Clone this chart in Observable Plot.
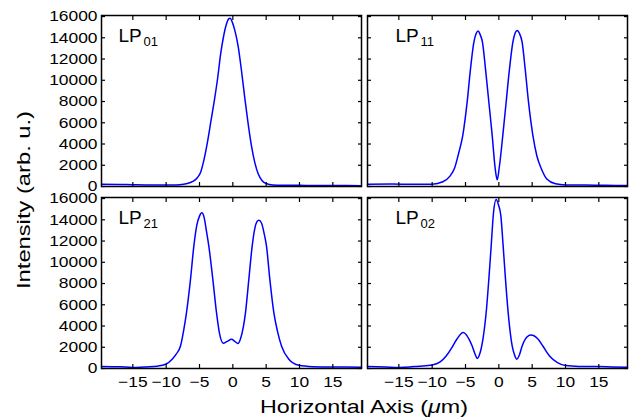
<!DOCTYPE html>
<html><head><meta charset="utf-8">
<script src="https://cdn.jsdelivr.net/npm/d3@7"></script>
<script src="https://cdn.jsdelivr.net/npm/@observablehq/plot@0.6"></script>
<style>body{margin:0;background:#fff}</style>
</head><body><div id="chart"></div>
<script>
const modeNames = ["LP01", "LP11", "LP21", "LP02"];
const modeCol = [0, 1, 0, 1];
const modeRow = [0, 0, 1, 1];

const xLP01 = [-19.7,-17,-15,-13,-11,-9,-8,-7,-6,-5.3,-4.8,-4.3,-3.8,-3.3,-2.8,-2.3,-1.8,-1.4,-1.0,-0.6,-0.4,-0.1,0.3,0.8,1.3,1.8,2.3,2.8,3.3,3.8,4.4,5,6,8,10,12,15,17,19.3];
const yLP01 = [220,200,170,150,150,140,170,260,480,850,1400,2600,4200,6100,8000,10100,12600,14100,15200,15800,15850,15500,14700,13200,10900,8300,5900,3800,2250,1200,550,280,150,120,110,100,90,100,80];

const xLP11 = [-19.7,-16,-13,-10,-8.4,-7.3,-6.65,-6.0,-5.4,-4.75,-4.25,-3.75,-3.4,-3.1,-2.8,-2.45,-2.0,-1.5,-1.0,-0.55,-0.25,0.05,0.6,1.1,1.6,2.1,2.45,2.75,3.1,3.5,3.95,4.45,5.1,5.7,6.35,7.2,8.5,10,13,16,19.3];
const yLP11 = [220,230,210,220,450,1000,1720,3200,4840,7960,11070,13570,14400,14650,14300,13570,11070,7960,4840,1720,625,1720,4840,7960,11070,13570,14450,14680,14400,13570,11070,7960,4840,2900,1720,700,250,140,130,110,100];

const xLP21 = [-19.7,-17,-15,-13,-11.3,-10,-9.1,-8.5,-7.85,-7.4,-6.95,-6.35,-5.85,-5.4,-5.0,-4.65,-4.3,-3.95,-3.6,-3.0,-2.45,-2.0,-1.45,-0.85,-0.2,0.3,0.75,1.2,1.9,2.4,2.9,3.3,3.6,3.9,4.3,4.7,5.05,5.55,6.15,6.7,7.3,8.4,9.9,12,15,17,19.3];
const yLP21 = [200,170,100,150,220,420,870,1350,2120,3500,5260,8390,11520,13500,14350,14660,14200,12900,11520,8390,5260,3300,2380,2550,2750,2550,2350,2900,5260,8390,11520,13200,13800,13960,13700,12700,11520,8390,5260,3500,2120,870,300,170,130,130,110];

const xLP02 = [-19.7,-17,-15,-12,-10,-8.8,-7.9,-6.9,-6.3,-5.35,-4.5,-4.0,-3.5,-3.25,-2.8,-2.35,-1.85,-1.5,-1.15,-0.8,-0.4,-0.05,0.3,0.65,1.0,1.4,2.0,2.4,2.7,3.1,3.5,3.95,4.8,5.9,6.6,7.6,8.8,10,12,15,17,19.3];
const yLP02 = [190,150,100,220,330,620,1180,2120,2750,3380,2800,2120,1250,950,1500,2900,5600,8390,11520,14660,15900,15400,14400,11520,8390,5260,2120,1200,870,1300,2120,2750,3150,2750,2120,1180,560,280,200,190,150,110];

const xTicks = [-15, -10, -5, 0, 5, 10, 15];
const yTicks = [0, 2000, 4000, 6000, 8000, 10000, 12000, 14000, 16000];
const xTitle = ["Horizontal Axis (", "μ", "m)"];
const yTitle = "Intensity (arb. u.)";

const xs = [xLP01, xLP11, xLP21, xLP02];
const ys = [yLP01, yLP11, yLP21, yLP02];
const rows = modeNames.flatMap((m, i) => xs[i].map((x, j) => ({mode: m, col: modeCol[i], row: modeRow[i], x, y: ys[i][j]})));
const labels = modeNames.map((m, i) => ({col: modeCol[i], row: modeRow[i], main: m.slice(0, 2), sub: m.slice(2)}));

const W = 631, H = 418, mL = 101, mR = 4, mT = 14, mB = 49;
const font = "'Liberation Sans', Arial, Helvetica, sans-serif";
const tickFont = 15, stretch = 1.16;

const labelMarks = [0, 1].flatMap(c => {
  const d = labels.filter(l => l.col === c);
  const dx = c === 0 ? 17 : 28;
  return [
    Plot.text(d, {fx: "col", fy: "row", text: "main", frameAnchor: "top-left", dx, dy: 26, lineAnchor: "bottom", textAnchor: "start", fontSize: 19}),
    Plot.text(d, {fx: "col", fy: "row", text: "sub", frameAnchor: "top-left", dx: dx + 25, dy: 30, lineAnchor: "bottom", textAnchor: "start", fontSize: 13})
  ];
});

const svg = Plot.plot({
  width: W, height: H,
  marginLeft: mL, marginRight: mR, marginTop: mT, marginBottom: mB,
  style: {fontFamily: font, fontSize: "15px", color: "black", background: "white"},
  fx: {domain: [0, 1], paddingInner: 0.0237, paddingOuter: 0, axis: null, label: null},
  fy: {domain: [0, 1], paddingInner: 0.06, paddingOuter: 0, axis: null, label: null},
  x: {domain: [-19.7, 19.3], label: null},
  y: {domain: [0, 16100], label: null},
  marks: [
    Plot.line(rows, {x: "x", y: "y", z: "mode", fx: "col", fy: "row", stroke: "#0000ff", strokeWidth: 1.5, curve: "monotone-x"}),
    Plot.axisX({anchor: "bottom", ticks: xTicks, tickSize: -4, fill: "none", facetAnchor: null, strokeWidth: 1.2}),
    Plot.axisX({anchor: "top", ticks: xTicks, tickSize: -4, fill: "none", facetAnchor: null, strokeWidth: 1.2}),
    Plot.axisY({anchor: "left", ticks: yTicks, tickSize: -4, fill: "none", facetAnchor: null, strokeWidth: 1.2}),
    Plot.axisY({anchor: "right", ticks: yTicks, tickSize: -4, fill: "none", facetAnchor: null, strokeWidth: 1.2}),
    Plot.axisX({anchor: "bottom", ticks: xTicks, tickSize: 0, tickPadding: 8, fontSize: tickFont, label: null}),
    Plot.axisY({anchor: "left", ticks: yTicks, tickSize: 0, tickPadding: 4, fontSize: tickFont, label: null, tickFormat: d => String(d)}),
    Plot.frame({stroke: "black", strokeWidth: 1.5}),
    ...labelMarks
  ]
});

document.getElementById("chart").append(svg);

const s = d3.select(svg);
// widen tick label glyphs horizontally (about their anchor) to match the reference's wider lettering
s.selectAll("text").each(function() {
  const t = this.textContent.trim();
  if (!/^[\u2212\-]?\d+$/.test(t)) return;
  const g = this.closest("g[aria-label]");
  const lab = g ? g.getAttribute("aria-label") : "";
  if (!/tick/.test(lab)) return;
  const tr = this.getAttribute("transform") || "";
  this.setAttribute("transform", (tr + ` scale(${stretch},1)`).trim());
});

const xt = s.append("text")
  .attr("x", (mL + W - mR) / 2).attr("y", 413)
  .attr("text-anchor", "middle").attr("font-size", 19).attr("font-family", font).attr("fill", "black")
  .attr("textLength", 208).attr("lengthAdjust", "spacingAndGlyphs");
xt.append("tspan").text(xTitle[0]);
xt.append("tspan").attr("font-style", "italic").text(xTitle[1]);
xt.append("tspan").text(xTitle[2]);
s.append("text")
  .attr("transform", `translate(30,${200}) rotate(-90)`)
  .attr("text-anchor", "middle").attr("font-size", 19).attr("font-family", font).attr("fill", "black")
  .attr("textLength", 178).attr("lengthAdjust", "spacingAndGlyphs")
  .text(yTitle);
</script>
</body></html>
